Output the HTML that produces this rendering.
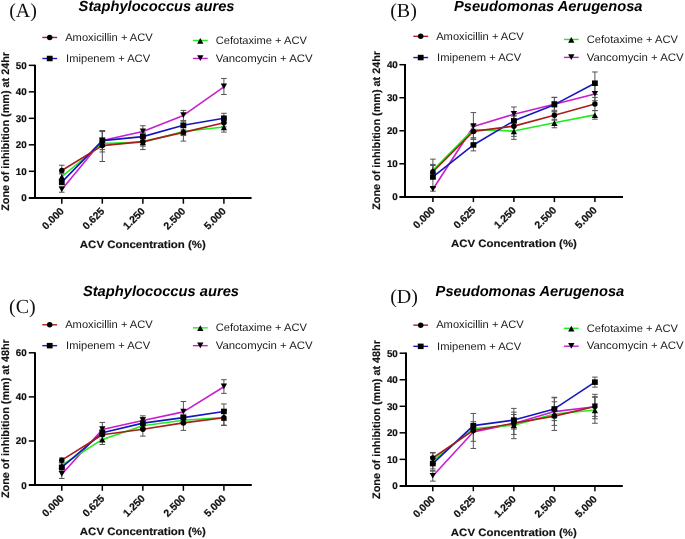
<!DOCTYPE html>
<html><head><meta charset="utf-8"><style>
html,body{margin:0;padding:0;background:#fff;width:685px;height:539px;overflow:hidden;font-family:"Liberation Sans",sans-serif}
</style></head><body>
<svg width="685" height="539" viewBox="0 0 685 539" style="position:absolute;left:0;top:0;will-change:transform" text-rendering="geometricPrecision"><text x="9.2" y="16.8" font-family="Liberation Serif" font-size="20" fill="#111">(A)</text><text x="390.2" y="16.6" font-family="Liberation Serif" font-size="20" fill="#111">(B)</text><text x="9.0" y="313.4" font-family="Liberation Serif" font-size="20" fill="#111">(C)</text><text x="390.2" y="302.8" font-family="Liberation Serif" font-size="20" fill="#111">(D)</text><g fill="#000"><path d="M35.00 64.75V198.00" stroke="#000" stroke-width="2" fill="none"/><path d="M28.80 198.00H251.60" stroke="#000" stroke-width="2" fill="none"/><path d="M28.80 171.31H35.00" stroke="#000" stroke-width="1.5" fill="none"/><path d="M28.80 144.82H35.00" stroke="#000" stroke-width="1.5" fill="none"/><path d="M28.80 118.33H35.00" stroke="#000" stroke-width="1.5" fill="none"/><path d="M28.80 91.84H35.00" stroke="#000" stroke-width="1.5" fill="none"/><path d="M28.80 65.35H35.00" stroke="#000" stroke-width="1.5" fill="none"/><path d="M61.80 197.80V203.70" stroke="#000" stroke-width="1.5" fill="none"/><path d="M102.32 197.80V203.70" stroke="#000" stroke-width="1.5" fill="none"/><path d="M142.85 197.80V203.70" stroke="#000" stroke-width="1.5" fill="none"/><path d="M183.38 197.80V203.70" stroke="#000" stroke-width="1.5" fill="none"/><path d="M223.90 197.80V203.70" stroke="#000" stroke-width="1.5" fill="none"/><text x="26.70" y="201.30" text-anchor="end" font-family="Liberation Sans" font-weight="bold" font-size="9.8" fill="#111" stroke="#111" stroke-width="0.2">0</text><text x="26.70" y="174.81" text-anchor="end" font-family="Liberation Sans" font-weight="bold" font-size="9.8" fill="#111" stroke="#111" stroke-width="0.2">10</text><text x="26.70" y="148.32" text-anchor="end" font-family="Liberation Sans" font-weight="bold" font-size="9.8" fill="#111" stroke="#111" stroke-width="0.2">20</text><text x="26.70" y="121.83" text-anchor="end" font-family="Liberation Sans" font-weight="bold" font-size="9.8" fill="#111" stroke="#111" stroke-width="0.2">30</text><text x="26.70" y="95.34" text-anchor="end" font-family="Liberation Sans" font-weight="bold" font-size="9.8" fill="#111" stroke="#111" stroke-width="0.2">40</text><text x="26.70" y="68.85" text-anchor="end" font-family="Liberation Sans" font-weight="bold" font-size="9.8" fill="#111" stroke="#111" stroke-width="0.2">50</text><text transform="translate(64.60 211.80) rotate(-45)" text-anchor="end" font-family="Liberation Sans" font-weight="bold" font-size="10.4" fill="#111" stroke="#111" stroke-width="0.2">0.000</text><text transform="translate(105.12 211.80) rotate(-45)" text-anchor="end" font-family="Liberation Sans" font-weight="bold" font-size="10.4" fill="#111" stroke="#111" stroke-width="0.2">0.625</text><text transform="translate(145.65 211.80) rotate(-45)" text-anchor="end" font-family="Liberation Sans" font-weight="bold" font-size="10.4" fill="#111" stroke="#111" stroke-width="0.2">1.250</text><text transform="translate(186.18 211.80) rotate(-45)" text-anchor="end" font-family="Liberation Sans" font-weight="bold" font-size="10.4" fill="#111" stroke="#111" stroke-width="0.2">2.500</text><text transform="translate(226.70 211.80) rotate(-45)" text-anchor="end" font-family="Liberation Sans" font-weight="bold" font-size="10.4" fill="#111" stroke="#111" stroke-width="0.2">5.000</text><text x="142.85" y="247.50" text-anchor="middle" font-family="Liberation Sans" font-weight="bold" font-size="10.6" textLength="126" lengthAdjust="spacingAndGlyphs" fill="#111" stroke="#111" stroke-width="0.15">ACV Concentration (%)</text><text transform="translate(8.90 131.40) rotate(-90)" text-anchor="middle" font-family="Liberation Sans" font-weight="bold" font-size="10.8" textLength="158.8" lengthAdjust="spacingAndGlyphs" fill="#111" stroke="#111" stroke-width="0.15">Zone of inhibition (mm) at 24hr</text><path d="M61.80 186.94V192.24M59.00 186.94H64.60M59.00 192.24H64.60" stroke="#555" stroke-width="1" fill="none"/><path d="M102.32 131.31V151.97M99.52 131.31H105.12M99.52 151.97H105.12" stroke="#555" stroke-width="1" fill="none"/><path d="M142.85 125.75V137.40M140.05 125.75H145.65M140.05 137.40H145.65" stroke="#555" stroke-width="1" fill="none"/><path d="M183.38 110.38V120.45M180.57 110.38H186.18M180.57 120.45H186.18" stroke="#555" stroke-width="1" fill="none"/><path d="M223.90 78.46V94.49M221.10 78.46H226.70M221.10 94.49H226.70" stroke="#555" stroke-width="1" fill="none"/><path d="M61.80 173.96V179.26M59.00 173.96H64.60M59.00 179.26H64.60" stroke="#555" stroke-width="1" fill="none"/><path d="M102.32 140.85V146.14M99.52 140.85H105.12M99.52 146.14H105.12" stroke="#555" stroke-width="1" fill="none"/><path d="M142.85 138.20V146.14M140.05 138.20H145.65M140.05 146.14H145.65" stroke="#555" stroke-width="1" fill="none"/><path d="M183.38 127.60V135.55M180.57 127.60H186.18M180.57 135.55H186.18" stroke="#555" stroke-width="1" fill="none"/><path d="M223.90 122.04V132.10M221.10 122.04H226.70M221.10 132.10H226.70" stroke="#555" stroke-width="1" fill="none"/><path d="M61.80 179.52V184.82M59.00 179.52H64.60M59.00 184.82H64.60" stroke="#555" stroke-width="1" fill="none"/><path d="M102.32 131.57V149.59M99.52 131.57H105.12M99.52 149.59H105.12" stroke="#555" stroke-width="1" fill="none"/><path d="M142.85 132.63V140.58M140.05 132.63H145.65M140.05 140.58H145.65" stroke="#555" stroke-width="1" fill="none"/><path d="M183.38 121.24V129.19M180.57 121.24H186.18M180.57 129.19H186.18" stroke="#555" stroke-width="1" fill="none"/><path d="M223.90 113.30V123.10M221.10 113.30H226.70M221.10 123.10H226.70" stroke="#555" stroke-width="1" fill="none"/><path d="M61.80 165.22V173.16M59.00 165.22H64.60M59.00 173.16H64.60" stroke="#555" stroke-width="1" fill="none"/><path d="M102.32 130.52V161.51M99.52 130.52H105.12M99.52 161.51H105.12" stroke="#555" stroke-width="1" fill="none"/><path d="M142.85 133.69V149.59M140.05 133.69H145.65M140.05 149.59H145.65" stroke="#555" stroke-width="1" fill="none"/><path d="M183.38 123.63V141.11M180.57 123.63H186.18M180.57 141.11H186.18" stroke="#555" stroke-width="1" fill="none"/><path d="M223.90 118.86V126.81M221.10 118.86H226.70M221.10 126.81H226.70" stroke="#555" stroke-width="1" fill="none"/><polyline points="61.80,189.59 102.32,140.58 142.85,131.57 183.38,115.42 223.90,86.81" stroke="#c81ecf" stroke-width="1.6" fill="none" stroke-linejoin="round"/><polyline points="61.80,176.61 102.32,143.50 142.85,142.17 183.38,131.57 223.90,127.07" stroke="#20ec20" stroke-width="1.6" fill="none" stroke-linejoin="round"/><polyline points="61.80,182.17 102.32,140.58 142.85,136.61 183.38,125.22 223.90,118.20" stroke="#1616c0" stroke-width="1.6" fill="none" stroke-linejoin="round"/><polyline points="61.80,170.52 102.32,145.61 142.85,141.64 183.38,132.37 223.90,122.83" stroke="#a81e1c" stroke-width="1.6" fill="none" stroke-linejoin="round"/><path d="M61.80 192.09L64.95 186.39L58.65 186.39Z"/><path d="M102.32 143.08L105.47 137.38L99.17 137.38Z"/><path d="M142.85 134.07L146.00 128.38L139.70 128.38Z"/><path d="M183.38 117.92L186.53 112.22L180.22 112.22Z"/><path d="M223.90 89.31L227.05 83.61L220.75 83.61Z"/><path d="M61.80 174.11L64.95 179.81L58.65 179.81Z"/><path d="M102.32 141.00L105.47 146.70L99.17 146.70Z"/><path d="M142.85 139.67L146.00 145.37L139.70 145.37Z"/><path d="M183.38 129.07L186.53 134.77L180.22 134.77Z"/><path d="M223.90 124.57L227.05 130.27L220.75 130.27Z"/><rect x="58.90" y="179.42" width="5.80" height="5.50"/><rect x="99.42" y="137.83" width="5.80" height="5.50"/><rect x="139.95" y="133.86" width="5.80" height="5.50"/><rect x="180.47" y="122.47" width="5.80" height="5.50"/><rect x="221.00" y="115.45" width="5.80" height="5.50"/><circle cx="61.80" cy="170.52" r="2.75"/><circle cx="102.32" cy="145.61" r="2.75"/><circle cx="142.85" cy="141.64" r="2.75"/><circle cx="183.38" cy="132.37" r="2.75"/><circle cx="223.90" cy="122.83" r="2.75"/></g><g fill="#000"><path d="M405.00 64.10V197.00" stroke="#000" stroke-width="2" fill="none"/><path d="M399.40 197.00H623.00" stroke="#000" stroke-width="2" fill="none"/><path d="M399.40 163.78H405.00" stroke="#000" stroke-width="1.5" fill="none"/><path d="M399.40 130.75H405.00" stroke="#000" stroke-width="1.5" fill="none"/><path d="M399.40 97.72H405.00" stroke="#000" stroke-width="1.5" fill="none"/><path d="M399.40 64.70H405.00" stroke="#000" stroke-width="1.5" fill="none"/><path d="M432.90 196.80V202.10" stroke="#000" stroke-width="1.5" fill="none"/><path d="M473.40 196.80V202.10" stroke="#000" stroke-width="1.5" fill="none"/><path d="M513.90 196.80V202.10" stroke="#000" stroke-width="1.5" fill="none"/><path d="M554.40 196.80V202.10" stroke="#000" stroke-width="1.5" fill="none"/><path d="M594.90 196.80V202.10" stroke="#000" stroke-width="1.5" fill="none"/><text x="397.80" y="200.30" text-anchor="end" font-family="Liberation Sans" font-weight="bold" font-size="9.8" fill="#111" stroke="#111" stroke-width="0.2">0</text><text x="397.80" y="167.28" text-anchor="end" font-family="Liberation Sans" font-weight="bold" font-size="9.8" fill="#111" stroke="#111" stroke-width="0.2">10</text><text x="397.80" y="134.25" text-anchor="end" font-family="Liberation Sans" font-weight="bold" font-size="9.8" fill="#111" stroke="#111" stroke-width="0.2">20</text><text x="397.80" y="101.22" text-anchor="end" font-family="Liberation Sans" font-weight="bold" font-size="9.8" fill="#111" stroke="#111" stroke-width="0.2">30</text><text x="397.80" y="68.20" text-anchor="end" font-family="Liberation Sans" font-weight="bold" font-size="9.8" fill="#111" stroke="#111" stroke-width="0.2">40</text><text transform="translate(435.70 210.80) rotate(-45)" text-anchor="end" font-family="Liberation Sans" font-weight="bold" font-size="10.4" fill="#111" stroke="#111" stroke-width="0.2">0.000</text><text transform="translate(476.20 210.80) rotate(-45)" text-anchor="end" font-family="Liberation Sans" font-weight="bold" font-size="10.4" fill="#111" stroke="#111" stroke-width="0.2">0.625</text><text transform="translate(516.70 210.80) rotate(-45)" text-anchor="end" font-family="Liberation Sans" font-weight="bold" font-size="10.4" fill="#111" stroke="#111" stroke-width="0.2">1.250</text><text transform="translate(557.20 210.80) rotate(-45)" text-anchor="end" font-family="Liberation Sans" font-weight="bold" font-size="10.4" fill="#111" stroke="#111" stroke-width="0.2">2.500</text><text transform="translate(597.70 210.80) rotate(-45)" text-anchor="end" font-family="Liberation Sans" font-weight="bold" font-size="10.4" fill="#111" stroke="#111" stroke-width="0.2">5.000</text><text x="513.90" y="246.50" text-anchor="middle" font-family="Liberation Sans" font-weight="bold" font-size="10.6" textLength="126" lengthAdjust="spacingAndGlyphs" fill="#111" stroke="#111" stroke-width="0.15">ACV Concentration (%)</text><text transform="translate(379.90 130.40) rotate(-90)" text-anchor="middle" font-family="Liberation Sans" font-weight="bold" font-size="10.8" textLength="158.8" lengthAdjust="spacingAndGlyphs" fill="#111" stroke="#111" stroke-width="0.15">Zone of inhibition (mm) at 24hr</text><path d="M432.90 187.22V191.19M430.10 187.22H435.70M430.10 191.19H435.70" stroke="#555" stroke-width="1" fill="none"/><path d="M473.40 112.59V137.69M470.60 112.59H476.20M470.60 137.69H476.20" stroke="#555" stroke-width="1" fill="none"/><path d="M513.90 106.97V121.50M511.10 106.97H516.70M511.10 121.50H516.70" stroke="#555" stroke-width="1" fill="none"/><path d="M554.40 97.39V111.27M551.60 97.39H557.20M551.60 111.27H557.20" stroke="#555" stroke-width="1" fill="none"/><path d="M594.90 85.51V100.70M592.10 85.51H597.70M592.10 100.70H597.70" stroke="#555" stroke-width="1" fill="none"/><path d="M432.90 159.15V173.68M430.10 159.15H435.70M430.10 173.68H435.70" stroke="#555" stroke-width="1" fill="none"/><path d="M473.40 126.13V132.73M470.60 126.13H476.20M470.60 132.73H476.20" stroke="#555" stroke-width="1" fill="none"/><path d="M513.90 122.82V139.34M511.10 122.82H516.70M511.10 139.34H516.70" stroke="#555" stroke-width="1" fill="none"/><path d="M554.40 119.19V127.78M551.60 119.19H557.20M551.60 127.78H557.20" stroke="#555" stroke-width="1" fill="none"/><path d="M594.90 110.60V119.19M592.10 110.60H597.70M592.10 119.19H597.70" stroke="#555" stroke-width="1" fill="none"/><path d="M432.90 165.43V187.55M430.10 165.43H435.70M430.10 187.55H435.70" stroke="#555" stroke-width="1" fill="none"/><path d="M473.40 139.01V150.90M470.60 139.01H476.20M470.60 150.90H476.20" stroke="#555" stroke-width="1" fill="none"/><path d="M513.90 115.89V125.80M511.10 115.89H516.70M511.10 125.80H516.70" stroke="#555" stroke-width="1" fill="none"/><path d="M554.40 97.39V111.93M551.60 97.39H557.20M551.60 111.93H557.20" stroke="#555" stroke-width="1" fill="none"/><path d="M594.90 71.97V94.42M592.10 71.97H597.70M592.10 94.42H597.70" stroke="#555" stroke-width="1" fill="none"/><path d="M432.90 164.44V178.31M430.10 164.44H435.70M430.10 178.31H435.70" stroke="#555" stroke-width="1" fill="none"/><path d="M473.40 124.81V139.34M470.60 124.81H476.20M470.60 139.34H476.20" stroke="#555" stroke-width="1" fill="none"/><path d="M513.90 115.89V136.36M511.10 115.89H516.70M511.10 136.36H516.70" stroke="#555" stroke-width="1" fill="none"/><path d="M554.40 110.27V120.18M551.60 110.27H557.20M551.60 120.18H557.20" stroke="#555" stroke-width="1" fill="none"/><path d="M594.90 97.39V110.60M592.10 97.39H597.70M592.10 110.60H597.70" stroke="#555" stroke-width="1" fill="none"/><polyline points="432.90,189.20 473.40,126.46 513.90,114.24 554.40,104.33 594.90,94.09" stroke="#c81ecf" stroke-width="1.6" fill="none" stroke-linejoin="round"/><polyline points="432.90,170.38 473.40,129.43 513.90,131.08 554.40,122.82 594.90,114.90" stroke="#20ec20" stroke-width="1.6" fill="none" stroke-linejoin="round"/><polyline points="432.90,176.99 473.40,144.95 513.90,120.84 554.40,104.66 594.90,83.19" stroke="#1616c0" stroke-width="1.6" fill="none" stroke-linejoin="round"/><polyline points="432.90,171.70 473.40,131.41 513.90,126.13 554.40,115.23 594.90,104.00" stroke="#a81e1c" stroke-width="1.6" fill="none" stroke-linejoin="round"/><path d="M432.90 191.70L436.05 186.00L429.75 186.00Z"/><path d="M473.40 128.96L476.55 123.26L470.25 123.26Z"/><path d="M513.90 116.74L517.05 111.04L510.75 111.04Z"/><path d="M554.40 106.83L557.55 101.13L551.25 101.13Z"/><path d="M594.90 96.59L598.05 90.89L591.75 90.89Z"/><path d="M432.90 167.88L436.05 173.58L429.75 173.58Z"/><path d="M473.40 126.93L476.55 132.63L470.25 132.63Z"/><path d="M513.90 128.58L517.05 134.28L510.75 134.28Z"/><path d="M554.40 120.32L557.55 126.02L551.25 126.02Z"/><path d="M594.90 112.40L598.05 118.10L591.75 118.10Z"/><rect x="430.00" y="174.24" width="5.80" height="5.50"/><rect x="470.50" y="142.20" width="5.80" height="5.50"/><rect x="511.00" y="118.09" width="5.80" height="5.50"/><rect x="551.50" y="101.91" width="5.80" height="5.50"/><rect x="592.00" y="80.44" width="5.80" height="5.50"/><circle cx="432.90" cy="171.70" r="2.75"/><circle cx="473.40" cy="131.41" r="2.75"/><circle cx="513.90" cy="126.13" r="2.75"/><circle cx="554.40" cy="115.23" r="2.75"/><circle cx="594.90" cy="104.00" r="2.75"/></g><g fill="#000"><path d="M35.00 352.20V485.00" stroke="#000" stroke-width="2" fill="none"/><path d="M28.80 485.00H251.80" stroke="#000" stroke-width="2" fill="none"/><path d="M28.80 440.97H35.00" stroke="#000" stroke-width="1.5" fill="none"/><path d="M28.80 396.88H35.00" stroke="#000" stroke-width="1.5" fill="none"/><path d="M28.80 352.80H35.00" stroke="#000" stroke-width="1.5" fill="none"/><path d="M61.80 485.05V490.80" stroke="#000" stroke-width="1.5" fill="none"/><path d="M102.32 485.05V490.80" stroke="#000" stroke-width="1.5" fill="none"/><path d="M142.85 485.05V490.80" stroke="#000" stroke-width="1.5" fill="none"/><path d="M183.38 485.05V490.80" stroke="#000" stroke-width="1.5" fill="none"/><path d="M223.90 485.05V490.80" stroke="#000" stroke-width="1.5" fill="none"/><text x="26.70" y="488.55" text-anchor="end" font-family="Liberation Sans" font-weight="bold" font-size="9.8" fill="#111" stroke="#111" stroke-width="0.2">0</text><text x="26.70" y="444.47" text-anchor="end" font-family="Liberation Sans" font-weight="bold" font-size="9.8" fill="#111" stroke="#111" stroke-width="0.2">20</text><text x="26.70" y="400.38" text-anchor="end" font-family="Liberation Sans" font-weight="bold" font-size="9.8" fill="#111" stroke="#111" stroke-width="0.2">40</text><text x="26.70" y="356.30" text-anchor="end" font-family="Liberation Sans" font-weight="bold" font-size="9.8" fill="#111" stroke="#111" stroke-width="0.2">60</text><text transform="translate(64.60 499.05) rotate(-45)" text-anchor="end" font-family="Liberation Sans" font-weight="bold" font-size="10.4" fill="#111" stroke="#111" stroke-width="0.2">0.000</text><text transform="translate(105.12 499.05) rotate(-45)" text-anchor="end" font-family="Liberation Sans" font-weight="bold" font-size="10.4" fill="#111" stroke="#111" stroke-width="0.2">0.625</text><text transform="translate(145.65 499.05) rotate(-45)" text-anchor="end" font-family="Liberation Sans" font-weight="bold" font-size="10.4" fill="#111" stroke="#111" stroke-width="0.2">1.250</text><text transform="translate(186.18 499.05) rotate(-45)" text-anchor="end" font-family="Liberation Sans" font-weight="bold" font-size="10.4" fill="#111" stroke="#111" stroke-width="0.2">2.500</text><text transform="translate(226.70 499.05) rotate(-45)" text-anchor="end" font-family="Liberation Sans" font-weight="bold" font-size="10.4" fill="#111" stroke="#111" stroke-width="0.2">5.000</text><text x="142.85" y="534.75" text-anchor="middle" font-family="Liberation Sans" font-weight="bold" font-size="10.6" textLength="126" lengthAdjust="spacingAndGlyphs" fill="#111" stroke="#111" stroke-width="0.15">ACV Concentration (%)</text><text transform="translate(8.90 418.65) rotate(-90)" text-anchor="middle" font-family="Liberation Sans" font-weight="bold" font-size="10.8" textLength="158.8" lengthAdjust="spacingAndGlyphs" fill="#111" stroke="#111" stroke-width="0.15">Zone of inhibition (mm) at 48hr</text><path d="M61.80 470.06V478.44M59.00 470.06H64.60M59.00 478.44H64.60" stroke="#555" stroke-width="1" fill="none"/><path d="M102.32 422.45V434.57M99.52 422.45H105.12M99.52 434.57H105.12" stroke="#555" stroke-width="1" fill="none"/><path d="M142.85 415.84V425.10M140.05 415.84H145.65M140.05 425.10H145.65" stroke="#555" stroke-width="1" fill="none"/><path d="M183.38 401.51V422.23M180.57 401.51H186.18M180.57 422.23H186.18" stroke="#555" stroke-width="1" fill="none"/><path d="M223.90 379.69V393.36M221.10 379.69H226.70M221.10 393.36H226.70" stroke="#555" stroke-width="1" fill="none"/><path d="M61.80 463.01V467.42M59.00 463.01H64.60M59.00 467.42H64.60" stroke="#555" stroke-width="1" fill="none"/><path d="M102.32 434.35V444.49M99.52 434.35H105.12M99.52 444.49H105.12" stroke="#555" stroke-width="1" fill="none"/><path d="M142.85 422.45V429.06M140.05 422.45H145.65M140.05 429.06H145.65" stroke="#555" stroke-width="1" fill="none"/><path d="M183.38 416.94V423.55M180.57 416.94H186.18M180.57 423.55H186.18" stroke="#555" stroke-width="1" fill="none"/><path d="M223.90 409.67V425.54M221.10 409.67H226.70M221.10 425.54H226.70" stroke="#555" stroke-width="1" fill="none"/><path d="M61.80 465.21V469.62M59.00 465.21H64.60M59.00 469.62H64.60" stroke="#555" stroke-width="1" fill="none"/><path d="M102.32 429.50V436.12M99.52 429.50H105.12M99.52 436.12H105.12" stroke="#555" stroke-width="1" fill="none"/><path d="M142.85 417.60V426.42M140.05 417.60H145.65M140.05 426.42H145.65" stroke="#555" stroke-width="1" fill="none"/><path d="M183.38 414.30V420.91M180.57 414.30H186.18M180.57 420.91H186.18" stroke="#555" stroke-width="1" fill="none"/><path d="M223.90 403.94V418.93M221.10 403.94H226.70M221.10 418.93H226.70" stroke="#555" stroke-width="1" fill="none"/><path d="M61.80 457.94V462.35M59.00 457.94H64.60M59.00 462.35H64.60" stroke="#555" stroke-width="1" fill="none"/><path d="M102.32 430.39V439.20M99.52 430.39H105.12M99.52 439.20H105.12" stroke="#555" stroke-width="1" fill="none"/><path d="M142.85 422.45V436.12M140.05 422.45H145.65M140.05 436.12H145.65" stroke="#555" stroke-width="1" fill="none"/><path d="M183.38 415.40V430.39M180.57 415.40H186.18M180.57 430.39H186.18" stroke="#555" stroke-width="1" fill="none"/><path d="M223.90 410.55V425.10M221.10 410.55H226.70M221.10 425.10H226.70" stroke="#555" stroke-width="1" fill="none"/><polyline points="61.80,474.25 102.32,429.50 142.85,420.47 183.38,411.87 223.90,386.74" stroke="#c81ecf" stroke-width="1.6" fill="none" stroke-linejoin="round"/><polyline points="61.80,465.21 102.32,439.42 142.85,425.76 183.38,420.25 223.90,417.60" stroke="#20ec20" stroke-width="1.6" fill="none" stroke-linejoin="round"/><polyline points="61.80,467.42 102.32,432.81 142.85,423.11 183.38,417.60 223.90,411.43" stroke="#1616c0" stroke-width="1.6" fill="none" stroke-linejoin="round"/><polyline points="61.80,460.14 102.32,434.80 142.85,429.28 183.38,422.89 223.90,417.82" stroke="#a81e1c" stroke-width="1.6" fill="none" stroke-linejoin="round"/><path d="M61.80 476.75L64.95 471.05L58.65 471.05Z"/><path d="M102.32 432.00L105.47 426.31L99.17 426.31Z"/><path d="M142.85 422.97L146.00 417.27L139.70 417.27Z"/><path d="M183.38 414.37L186.53 408.67L180.22 408.67Z"/><path d="M223.90 389.24L227.05 383.54L220.75 383.54Z"/><path d="M61.80 462.71L64.95 468.41L58.65 468.41Z"/><path d="M102.32 436.92L105.47 442.62L99.17 442.62Z"/><path d="M142.85 423.26L146.00 428.96L139.70 428.96Z"/><path d="M183.38 417.75L186.53 423.45L180.22 423.45Z"/><path d="M223.90 415.10L227.05 420.80L220.75 420.80Z"/><rect x="58.90" y="464.67" width="5.80" height="5.50"/><rect x="99.42" y="430.06" width="5.80" height="5.50"/><rect x="139.95" y="420.36" width="5.80" height="5.50"/><rect x="180.47" y="414.85" width="5.80" height="5.50"/><rect x="221.00" y="408.68" width="5.80" height="5.50"/><circle cx="61.80" cy="460.14" r="2.75"/><circle cx="102.32" cy="434.80" r="2.75"/><circle cx="142.85" cy="429.28" r="2.75"/><circle cx="183.38" cy="422.89" r="2.75"/><circle cx="223.90" cy="417.82" r="2.75"/></g><g fill="#000"><path d="M406.00 352.60V486.00" stroke="#000" stroke-width="2" fill="none"/><path d="M399.60 486.00H622.80" stroke="#000" stroke-width="2" fill="none"/><path d="M399.60 459.36H406.00" stroke="#000" stroke-width="1.5" fill="none"/><path d="M399.60 432.82H406.00" stroke="#000" stroke-width="1.5" fill="none"/><path d="M399.60 406.28H406.00" stroke="#000" stroke-width="1.5" fill="none"/><path d="M399.60 379.74H406.00" stroke="#000" stroke-width="1.5" fill="none"/><path d="M399.60 353.20H406.00" stroke="#000" stroke-width="1.5" fill="none"/><path d="M432.80 485.90V491.20" stroke="#000" stroke-width="1.5" fill="none"/><path d="M473.32 485.90V491.20" stroke="#000" stroke-width="1.5" fill="none"/><path d="M513.85 485.90V491.20" stroke="#000" stroke-width="1.5" fill="none"/><path d="M554.38 485.90V491.20" stroke="#000" stroke-width="1.5" fill="none"/><path d="M594.90 485.90V491.20" stroke="#000" stroke-width="1.5" fill="none"/><text x="397.80" y="489.40" text-anchor="end" font-family="Liberation Sans" font-weight="bold" font-size="9.8" fill="#111" stroke="#111" stroke-width="0.2">0</text><text x="397.80" y="462.86" text-anchor="end" font-family="Liberation Sans" font-weight="bold" font-size="9.8" fill="#111" stroke="#111" stroke-width="0.2">10</text><text x="397.80" y="436.32" text-anchor="end" font-family="Liberation Sans" font-weight="bold" font-size="9.8" fill="#111" stroke="#111" stroke-width="0.2">20</text><text x="397.80" y="409.78" text-anchor="end" font-family="Liberation Sans" font-weight="bold" font-size="9.8" fill="#111" stroke="#111" stroke-width="0.2">30</text><text x="397.80" y="383.24" text-anchor="end" font-family="Liberation Sans" font-weight="bold" font-size="9.8" fill="#111" stroke="#111" stroke-width="0.2">40</text><text x="397.80" y="356.70" text-anchor="end" font-family="Liberation Sans" font-weight="bold" font-size="9.8" fill="#111" stroke="#111" stroke-width="0.2">50</text><text transform="translate(435.60 499.90) rotate(-45)" text-anchor="end" font-family="Liberation Sans" font-weight="bold" font-size="10.4" fill="#111" stroke="#111" stroke-width="0.2">0.000</text><text transform="translate(476.12 499.90) rotate(-45)" text-anchor="end" font-family="Liberation Sans" font-weight="bold" font-size="10.4" fill="#111" stroke="#111" stroke-width="0.2">0.625</text><text transform="translate(516.65 499.90) rotate(-45)" text-anchor="end" font-family="Liberation Sans" font-weight="bold" font-size="10.4" fill="#111" stroke="#111" stroke-width="0.2">1.250</text><text transform="translate(557.17 499.90) rotate(-45)" text-anchor="end" font-family="Liberation Sans" font-weight="bold" font-size="10.4" fill="#111" stroke="#111" stroke-width="0.2">2.500</text><text transform="translate(597.70 499.90) rotate(-45)" text-anchor="end" font-family="Liberation Sans" font-weight="bold" font-size="10.4" fill="#111" stroke="#111" stroke-width="0.2">5.000</text><text x="513.85" y="535.60" text-anchor="middle" font-family="Liberation Sans" font-weight="bold" font-size="10.6" textLength="126" lengthAdjust="spacingAndGlyphs" fill="#111" stroke="#111" stroke-width="0.15">ACV Concentration (%)</text><text transform="translate(379.90 419.50) rotate(-90)" text-anchor="middle" font-family="Liberation Sans" font-weight="bold" font-size="10.8" textLength="158.8" lengthAdjust="spacingAndGlyphs" fill="#111" stroke="#111" stroke-width="0.15">Zone of inhibition (mm) at 48hr</text><path d="M432.80 471.04V481.12M430.00 471.04H435.60M430.00 481.12H435.60" stroke="#555" stroke-width="1" fill="none"/><path d="M473.32 429.37V441.31M470.52 429.37H476.12M470.52 441.31H476.12" stroke="#555" stroke-width="1" fill="none"/><path d="M513.85 408.40V438.66M511.05 408.40H516.65M511.05 438.66H516.65" stroke="#555" stroke-width="1" fill="none"/><path d="M554.38 397.79V425.39M551.58 397.79H557.17M551.58 425.39H557.17" stroke="#555" stroke-width="1" fill="none"/><path d="M594.90 397.26V416.37M592.10 397.26H597.70M592.10 416.37H597.70" stroke="#555" stroke-width="1" fill="none"/><path d="M432.80 452.99V468.91M430.00 452.99H435.60M430.00 468.91H435.60" stroke="#555" stroke-width="1" fill="none"/><path d="M473.32 425.92V431.23M470.52 425.92H476.12M470.52 431.23H476.12" stroke="#555" stroke-width="1" fill="none"/><path d="M513.85 421.14V429.10M511.05 421.14H516.65M511.05 429.10H516.65" stroke="#555" stroke-width="1" fill="none"/><path d="M554.38 410.00V417.96M551.58 410.00H557.17M551.58 417.96H557.17" stroke="#555" stroke-width="1" fill="none"/><path d="M594.90 396.73V423.27M592.10 396.73H597.70M592.10 423.27H597.70" stroke="#555" stroke-width="1" fill="none"/><path d="M432.80 456.44V470.77M430.00 456.44H435.60M430.00 470.77H435.60" stroke="#555" stroke-width="1" fill="none"/><path d="M473.32 421.67V429.64M470.52 421.67H476.12M470.52 429.64H476.12" stroke="#555" stroke-width="1" fill="none"/><path d="M513.85 414.51V425.65M511.05 414.51H516.65M511.05 425.65H516.65" stroke="#555" stroke-width="1" fill="none"/><path d="M554.38 397.26V420.61M551.58 397.26H557.17M551.58 420.61H557.17" stroke="#555" stroke-width="1" fill="none"/><path d="M594.90 377.09V387.17M592.10 377.09H597.70M592.10 387.17H597.70" stroke="#555" stroke-width="1" fill="none"/><path d="M432.80 452.46V463.61M430.00 452.46H435.60M430.00 463.61H435.60" stroke="#555" stroke-width="1" fill="none"/><path d="M473.32 413.45V448.48M470.52 413.45H476.12M470.52 448.48H476.12" stroke="#555" stroke-width="1" fill="none"/><path d="M513.85 412.12V434.41M511.05 412.12H516.65M511.05 434.41H516.65" stroke="#555" stroke-width="1" fill="none"/><path d="M554.38 401.77V430.43M551.58 401.77H557.17M551.58 430.43H557.17" stroke="#555" stroke-width="1" fill="none"/><path d="M594.90 394.34V418.75M592.10 394.34H597.70M592.10 418.75H597.70" stroke="#555" stroke-width="1" fill="none"/><polyline points="432.80,476.08 473.32,432.02 513.85,423.53 554.38,411.59 594.90,406.81" stroke="#c81ecf" stroke-width="1.6" fill="none" stroke-linejoin="round"/><polyline points="432.80,460.95 473.32,428.57 513.85,425.12 554.38,413.98 594.90,410.00" stroke="#20ec20" stroke-width="1.6" fill="none" stroke-linejoin="round"/><polyline points="432.80,463.61 473.32,425.65 513.85,420.08 554.38,408.93 594.90,382.13" stroke="#1616c0" stroke-width="1.6" fill="none" stroke-linejoin="round"/><polyline points="432.80,458.03 473.32,430.43 513.85,423.27 554.38,416.10 594.90,406.55" stroke="#a81e1c" stroke-width="1.6" fill="none" stroke-linejoin="round"/><path d="M432.80 478.58L435.95 472.88L429.65 472.88Z"/><path d="M473.32 434.52L476.47 428.82L470.18 428.82Z"/><path d="M513.85 426.03L517.00 420.33L510.70 420.33Z"/><path d="M554.38 414.09L557.52 408.39L551.23 408.39Z"/><path d="M594.90 409.31L598.05 403.61L591.75 403.61Z"/><path d="M432.80 458.45L435.95 464.15L429.65 464.15Z"/><path d="M473.32 426.07L476.47 431.77L470.18 431.77Z"/><path d="M513.85 422.62L517.00 428.32L510.70 428.32Z"/><path d="M554.38 411.48L557.52 417.18L551.23 417.18Z"/><path d="M594.90 407.50L598.05 413.20L591.75 413.20Z"/><rect x="429.90" y="460.86" width="5.80" height="5.50"/><rect x="470.43" y="422.90" width="5.80" height="5.50"/><rect x="510.95" y="417.33" width="5.80" height="5.50"/><rect x="551.48" y="406.18" width="5.80" height="5.50"/><rect x="592.00" y="379.38" width="5.80" height="5.50"/><circle cx="432.80" cy="458.03" r="2.75"/><circle cx="473.32" cy="430.43" r="2.75"/><circle cx="513.85" cy="423.27" r="2.75"/><circle cx="554.38" cy="416.10" r="2.75"/><circle cx="594.90" cy="406.55" r="2.75"/></g><text x="78.6" y="10.8" font-family="Liberation Sans" font-weight="bold" font-style="italic" font-size="14.6" textLength="155.9" lengthAdjust="spacingAndGlyphs" fill="#000">Staphylococcus aures</text><path d="M42.30 37.45H57.10" stroke="#a81e1c" stroke-width="1.4"/><g fill="#000"><circle cx="49.70" cy="37.45" r="2.75"/></g><text x="65.20" y="40.70" font-family="Liberation Sans" font-size="10.9" textLength="87.6" lengthAdjust="spacingAndGlyphs" fill="#1a1a1a">Amoxicillin + ACV</text><path d="M42.30 58.50H57.10" stroke="#1616c0" stroke-width="1.4"/><g fill="#000"><rect x="46.80" y="55.75" width="5.80" height="5.50"/></g><text x="66.10" y="61.75" font-family="Liberation Sans" font-size="10.9" textLength="84.0" lengthAdjust="spacingAndGlyphs" fill="#1a1a1a">Imipenem + ACV</text><path d="M192.90 40.45H207.70" stroke="#20ec20" stroke-width="1.4"/><g fill="#000"><path d="M200.30 37.95L203.45 43.65L197.15 43.65Z"/></g><text x="215.70" y="43.70" font-family="Liberation Sans" font-size="10.9" textLength="91.3" lengthAdjust="spacingAndGlyphs" fill="#1a1a1a">Cefotaxime + ACV</text><path d="M192.90 58.45H207.70" stroke="#c81ecf" stroke-width="1.4"/><g fill="#000"><path d="M200.30 60.95L203.45 55.25L197.15 55.25Z"/></g><text x="215.70" y="61.70" font-family="Liberation Sans" font-size="10.9" textLength="97.0" lengthAdjust="spacingAndGlyphs" fill="#1a1a1a">Vancomycin + ACV</text><text x="454.0" y="11.2" font-family="Liberation Sans" font-weight="bold" font-style="italic" font-size="14.6" textLength="188.5" lengthAdjust="spacingAndGlyphs" fill="#000">Pseudomonas Aerugenosa</text><path d="M413.30 36.35H428.10" stroke="#a81e1c" stroke-width="1.4"/><g fill="#000"><circle cx="420.70" cy="36.35" r="2.75"/></g><text x="436.20" y="39.60" font-family="Liberation Sans" font-size="10.9" textLength="87.6" lengthAdjust="spacingAndGlyphs" fill="#1a1a1a">Amoxicillin + ACV</text><path d="M413.30 57.55H428.10" stroke="#1616c0" stroke-width="1.4"/><g fill="#000"><rect x="417.80" y="54.80" width="5.80" height="5.50"/></g><text x="437.10" y="60.80" font-family="Liberation Sans" font-size="10.9" textLength="84.0" lengthAdjust="spacingAndGlyphs" fill="#1a1a1a">Imipenem + ACV</text><path d="M563.90 39.45H578.70" stroke="#20ec20" stroke-width="1.4"/><g fill="#000"><path d="M571.30 36.95L574.45 42.65L568.15 42.65Z"/></g><text x="586.70" y="42.70" font-family="Liberation Sans" font-size="10.9" textLength="91.3" lengthAdjust="spacingAndGlyphs" fill="#1a1a1a">Cefotaxime + ACV</text><path d="M563.90 57.40H578.70" stroke="#c81ecf" stroke-width="1.4"/><g fill="#000"><path d="M571.30 59.90L574.45 54.20L568.15 54.20Z"/></g><text x="586.70" y="60.65" font-family="Liberation Sans" font-size="10.9" textLength="97.0" lengthAdjust="spacingAndGlyphs" fill="#1a1a1a">Vancomycin + ACV</text><text x="82.9" y="295.9" font-family="Liberation Sans" font-weight="bold" font-style="italic" font-size="14.6" textLength="156.1" lengthAdjust="spacingAndGlyphs" fill="#000">Staphylococcus aures</text><path d="M42.30 324.80H57.10" stroke="#a81e1c" stroke-width="1.4"/><g fill="#000"><circle cx="49.70" cy="324.80" r="2.75"/></g><text x="65.20" y="328.05" font-family="Liberation Sans" font-size="10.9" textLength="87.6" lengthAdjust="spacingAndGlyphs" fill="#1a1a1a">Amoxicillin + ACV</text><path d="M42.30 345.65H57.10" stroke="#1616c0" stroke-width="1.4"/><g fill="#000"><rect x="46.80" y="342.90" width="5.80" height="5.50"/></g><text x="66.10" y="348.90" font-family="Liberation Sans" font-size="10.9" textLength="84.0" lengthAdjust="spacingAndGlyphs" fill="#1a1a1a">Imipenem + ACV</text><path d="M192.90 327.85H207.70" stroke="#20ec20" stroke-width="1.4"/><g fill="#000"><path d="M200.30 325.35L203.45 331.05L197.15 331.05Z"/></g><text x="215.70" y="331.10" font-family="Liberation Sans" font-size="10.9" textLength="91.3" lengthAdjust="spacingAndGlyphs" fill="#1a1a1a">Cefotaxime + ACV</text><path d="M192.90 345.65H207.70" stroke="#c81ecf" stroke-width="1.4"/><g fill="#000"><path d="M200.30 348.15L203.45 342.45L197.15 342.45Z"/></g><text x="215.70" y="348.90" font-family="Liberation Sans" font-size="10.9" textLength="97.0" lengthAdjust="spacingAndGlyphs" fill="#1a1a1a">Vancomycin + ACV</text><text x="435.6" y="295.8" font-family="Liberation Sans" font-weight="bold" font-style="italic" font-size="14.6" textLength="188.7" lengthAdjust="spacingAndGlyphs" fill="#000">Pseudomonas Aerugenosa</text><path d="M413.30 325.15H428.10" stroke="#a81e1c" stroke-width="1.4"/><g fill="#000"><circle cx="420.70" cy="325.15" r="2.75"/></g><text x="436.20" y="328.40" font-family="Liberation Sans" font-size="10.9" textLength="87.6" lengthAdjust="spacingAndGlyphs" fill="#1a1a1a">Amoxicillin + ACV</text><path d="M413.30 346.35H428.10" stroke="#1616c0" stroke-width="1.4"/><g fill="#000"><rect x="417.80" y="343.60" width="5.80" height="5.50"/></g><text x="437.10" y="349.60" font-family="Liberation Sans" font-size="10.9" textLength="84.0" lengthAdjust="spacingAndGlyphs" fill="#1a1a1a">Imipenem + ACV</text><path d="M563.90 328.30H578.70" stroke="#20ec20" stroke-width="1.4"/><g fill="#000"><path d="M571.30 325.80L574.45 331.50L568.15 331.50Z"/></g><text x="586.70" y="331.55" font-family="Liberation Sans" font-size="10.9" textLength="91.3" lengthAdjust="spacingAndGlyphs" fill="#1a1a1a">Cefotaxime + ACV</text><path d="M563.90 346.20H578.70" stroke="#c81ecf" stroke-width="1.4"/><g fill="#000"><path d="M571.30 348.70L574.45 343.00L568.15 343.00Z"/></g><text x="586.70" y="349.45" font-family="Liberation Sans" font-size="10.9" textLength="97.0" lengthAdjust="spacingAndGlyphs" fill="#1a1a1a">Vancomycin + ACV</text></svg>
</body></html>
